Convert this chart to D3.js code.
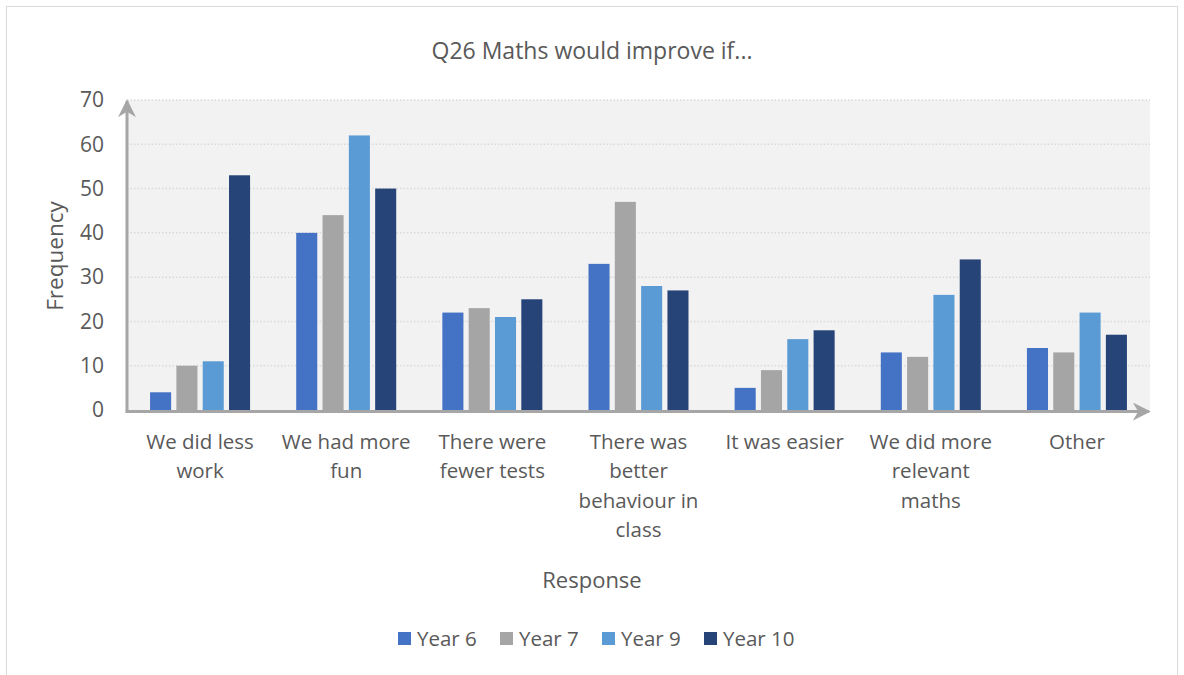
<!DOCTYPE html>
<html>
<head>
<meta charset="utf-8">
<script src="https://cdnjs.cloudflare.com/ajax/libs/d3/7.8.5/d3.min.js"></script>
<style>
  html, body { margin: 0; padding: 0; background: #ffffff; }
  svg { display: block; }
  text { font-family: "Open Sans", "Noto Sans", "Liberation Sans", sans-serif; fill: #595959; }
</style>
</head>
<body>
<svg id="chart" width="1184" height="675"></svg>
<script>
const title = "Q26 Maths would improve if...";
const xTitle = "Response";
const yTitle = "Frequency";
const categories = [
  "We did less\nwork",
  "We had more\nfun",
  "There were\nfewer tests",
  "There was\nbetter\nbehaviour in\nclass",
  "It was easier",
  "We did more\nrelevant\nmaths",
  "Other"
];
const seriesNames = ["Year 6", "Year 7", "Year 9", "Year 10"];
const year6  = [4, 40, 22, 33, 5, 13, 14];
const year7  = [10, 44, 23, 47, 9, 12, 13];
const year9  = [11, 62, 21, 28, 16, 26, 22];
const year10 = [53, 50, 25, 27, 18, 34, 17];
const yTicks = [0, 10, 20, 30, 40, 50, 60, 70];
const colors = ["#4472c4", "#a5a5a5", "#5b9bd5", "#264478"];

const seriesValues = [year6, year7, year9, year10];

const svg = d3.select("#chart");

// outer chart border
svg.append("rect")
  .attr("x", 6.5).attr("y", 6.5)
  .attr("width", 1171).attr("height", 680)
  .attr("fill", "#ffffff").attr("stroke", "#d9d9d9").attr("stroke-width", 1);

const plot = { left: 127, right: 1150, top: 100, bottom: 410 };

const x = d3.scaleBand().domain(categories).range([plot.left, plot.right]).padding(0);
const xInner = d3.scaleBand().domain(seriesNames).range([-50, 50]).paddingInner(0.2).paddingOuter(0);
const y = d3.scaleLinear().domain([0, 70]).range([plot.bottom, plot.top]);

// plot background
svg.append("rect")
  .attr("x", plot.left).attr("y", plot.top)
  .attr("width", plot.right - plot.left).attr("height", plot.bottom - plot.top)
  .attr("fill", "#f2f2f2");

// gridlines
svg.append("g").selectAll("line")
  .data(yTicks.filter(t => t > 0))
  .join("line")
  .attr("x1", plot.left).attr("x2", plot.right)
  .attr("y1", d => y(d)).attr("y2", d => y(d))
  .attr("stroke", "#d9d9d9").attr("stroke-width", 1.5)
  .attr("stroke-dasharray", "1.5,2");

// bars
const groups = svg.append("g").selectAll("g")
  .data(categories)
  .join("g")
  .attr("transform", c => `translate(${x(c) + x.bandwidth() / 2},0)`);

groups.selectAll("rect")
  .data((c, i) => seriesNames.map((s, j) => ({ s, v: seriesValues[j][i], j })))
  .join("rect")
  .attr("x", d => xInner(d.s))
  .attr("width", xInner.bandwidth())
  .attr("y", d => y(d.v))
  .attr("height", d => y(0) - y(d.v))
  .attr("fill", d => colors[d.j]);

// arrow markers
const defs = svg.append("defs");
defs.append("marker")
  .attr("id", "arrow")
  .attr("viewBox", "0 0 10 10")
  .attr("refX", 9).attr("refY", 5)
  .attr("markerWidth", 6).attr("markerHeight", 6)
  .attr("markerUnits", "strokeWidth")
  .attr("orient", "auto")
  .append("path")
  .attr("d", "M0,0 L10,5 L0,10 L3,5 Z")
  .attr("fill", "#a6a6a6");

// axis lines
svg.append("line")
  .attr("x1", plot.left).attr("y1", plot.bottom + 1.5)
  .attr("x2", plot.left).attr("y2", plot.top + 1)
  .attr("stroke", "#a6a6a6").attr("stroke-width", 3)
  .attr("marker-end", "url(#arrow)");
svg.append("line")
  .attr("x1", plot.left - 1.5).attr("y1", plot.bottom + 1.5)
  .attr("x2", plot.right - 1).attr("y2", plot.bottom + 1.5)
  .attr("stroke", "#a6a6a6").attr("stroke-width", 3)
  .attr("marker-end", "url(#arrow)");

// y axis labels
const yAxis = svg.append("g")
  .attr("transform", `translate(${plot.left},0)`)
  .call(d3.axisLeft(y).tickValues(yTicks).tickSize(0).tickPadding(23));
yAxis.select(".domain").remove();
yAxis.selectAll("text")
  .style("font-size", "21px")
  .style("fill", "#595959")
  .style("font-family", "'Open Sans', sans-serif");

// x axis labels (multi-line)
const xAxis = svg.append("g")
  .attr("transform", `translate(0,${plot.bottom})`)
  .call(d3.axisBottom(x).tickSize(0).tickFormat(""));
xAxis.select(".domain").remove();
xAxis.selectAll(".tick").each(function(c) {
  const t = d3.select(this).append("text")
    .attr("text-anchor", "middle")
    .style("font-size", "20.5px")
    .style("fill", "#595959");
  c.split("\n").forEach((line, i) => {
    t.append("tspan").attr("x", 0).attr("y", 39 + i * 29.3).text(line);
  });
});

// title
svg.append("text")
  .attr("x", 592).attr("y", 59)
  .attr("text-anchor", "middle")
  .style("font-size", "23px")
  .text(title);

// axis titles
svg.append("text")
  .attr("x", 592).attr("y", 588)
  .attr("text-anchor", "middle")
  .style("font-size", "22px")
  .text(xTitle);
svg.append("text")
  .attr("transform", "translate(63,256) rotate(-90)")
  .attr("text-anchor", "middle")
  .style("font-size", "22.5px")
  .text(yTitle);

// legend
const legendX = [398, 500, 602, 704];
const legend = svg.append("g").selectAll("g")
  .data(seriesNames)
  .join("g")
  .attr("transform", (d, i) => `translate(${legendX[i]},639)`);
legend.append("rect")
  .attr("x", 0).attr("y", -7)
  .attr("width", 13).attr("height", 13)
  .attr("fill", (d, i) => colors[i]);
legend.append("text")
  .attr("x", 19).attr("y", 7)
  .style("font-size", "20.5px")
  .text(d => d);
</script>
</body>
</html>
